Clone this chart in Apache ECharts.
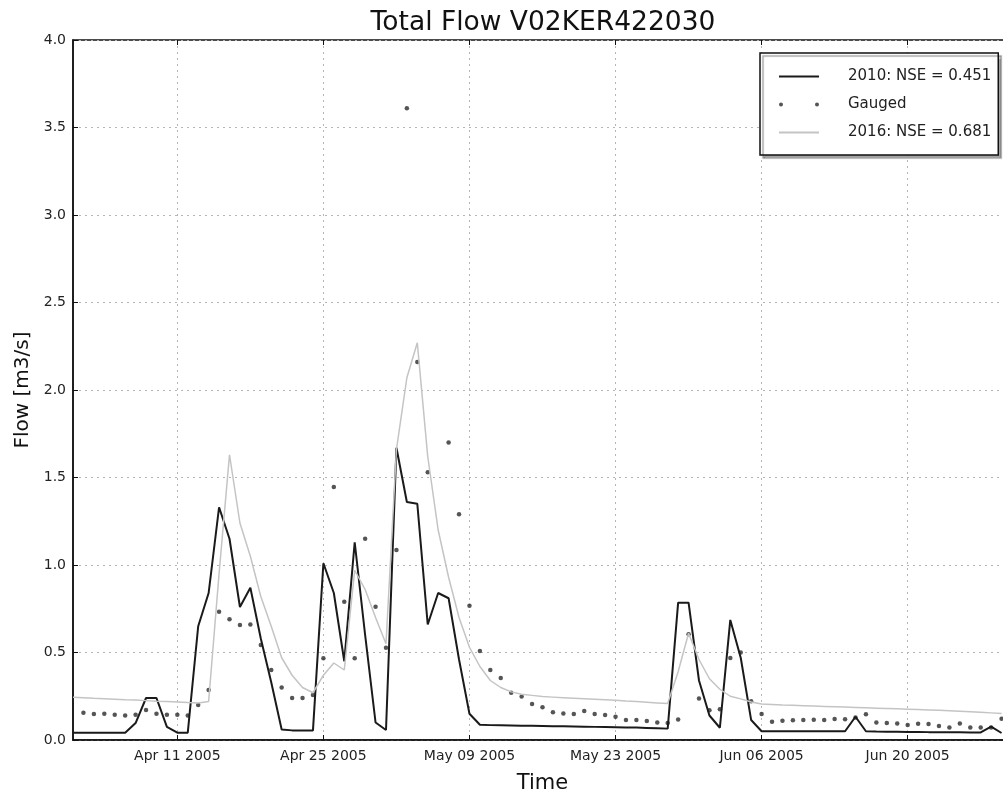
<!DOCTYPE html>
<html>
<head>
<meta charset="utf-8">
<script src="https://cdn.jsdelivr.net/npm/echarts@6/dist/echarts.min.js"></script>
<style>
html,body{margin:0;padding:0;background:#fff;}
#chart{width:1003px;height:796px;}
</style>
</head>
<body>
<div id="chart"></div>
<script>
// ---- data (daily, starting Apr 01 2005) ----
const startYear = 2005, startMonth = 3, startDay = 1; // Apr 1
const nDays = 91; // Apr 01 .. Jun 30
const tickLabels = ["Apr 11 2005", "Apr 25 2005", "May 09 2005", "May 23 2005", "Jun 06 2005", "Jun 20 2005"];
const yTicks = [0, 0.5, 1, 1.5, 2, 2.5, 3, 3.5, 4];

const sim2010 = [
  0.042,0.042,0.042,0.042,0.042,0.042,0.097,0.24,0.24,0.075,
  0.042,0.042,0.65,0.84,1.33,1.15,0.76,0.87,0.58,0.33,
  0.06,0.055,0.055,0.055,1.01,0.84,0.45,1.13,0.60,0.10,
  0.057,1.67,1.36,1.35,0.66,0.84,0.81,0.46,0.15,0.087,
  0.085,0.084,0.083,0.082,0.081,0.080,0.079,0.078,0.077,0.076,
  0.075,0.074,0.073,0.072,0.071,0.069,0.067,0.065,0.785,0.785,
  0.34,0.14,0.07,0.686,0.47,0.114,0.05,0.05,0.05,0.05,
  0.05,0.05,0.05,0.05,0.05,0.133,0.05,0.048,0.047,0.047,
  0.046,0.046,0.045,0.045,0.044,0.044,0.043,0.043,0.076,0.04
];
const gauged = [
  null,0.156,0.148,0.15,0.145,0.14,0.145,0.171,0.15,0.145,
  0.145,0.14,0.20,0.286,0.733,0.69,0.657,0.66,0.543,0.40,
  0.30,0.24,0.24,0.257,0.467,1.446,0.79,0.467,1.15,0.762,
  0.527,1.086,3.61,2.16,1.53,null,1.70,1.29,0.767,0.509,
  0.40,0.354,0.27,0.248,0.206,0.187,0.158,0.152,0.149,0.166,
  0.149,0.143,0.133,0.114,0.114,0.109,0.10,0.097,0.117,0.605,
  0.237,0.17,0.176,0.468,0.50,0.222,0.148,0.105,0.11,0.113,
  0.114,0.116,0.114,0.12,0.118,0.128,0.147,0.10,0.097,0.095,
  0.086,0.093,0.091,0.08,0.072,0.095,0.072,0.072,0.072,0.122
];
const sim2016 = [
  0.244,0.241,0.238,0.236,0.233,0.23,0.228,0.225,0.222,0.22,
  0.217,0.214,0.212,0.22,0.95,1.63,1.24,1.05,0.82,0.65,
  0.47,0.37,0.30,0.27,0.37,0.44,0.40,0.97,0.86,0.70,
  0.55,1.66,2.07,2.27,1.62,1.20,0.93,0.70,0.53,0.42,
  0.34,0.30,0.275,0.262,0.255,0.248,0.245,0.242,0.239,0.236,
  0.233,0.23,0.227,0.223,0.22,0.216,0.212,0.208,0.39,0.61,
  0.46,0.35,0.29,0.25,0.235,0.217,0.206,0.203,0.20,0.198,
  0.196,0.194,0.192,0.19,0.188,0.186,0.184,0.182,0.18,0.178,
  0.176,0.174,0.172,0.17,0.167,0.164,0.161,0.158,0.155,0.152
];

// category labels (one per day)
const monthNames = ["Jan","Feb","Mar","Apr","May","Jun","Jul","Aug","Sep","Oct","Nov","Dec"];
const categories = [];
for (let i = 0; i < nDays; i++) {
  const d = new Date(Date.UTC(startYear, startMonth, startDay + i));
  const dd = String(d.getUTCDate()).padStart(2, "0");
  categories.push(monthNames[d.getUTCMonth()] + " " + dd + " " + d.getUTCFullYear());
}
const tickSet = new Set(tickLabels);
const isTick = (idx, val) => tickSet.has(val);

const FONT = "DejaVu Sans";
const chart = echarts.init(document.getElementById('chart'), null, {renderer: 'canvas'});

const gridStyle = {show: true, interval: isTick, lineStyle: {color: '#b5b5b5', width: 1, type: [2, 4]}};

chart.setOption({
  animation: false,
  backgroundColor: '#fff',
  graphic: [{
    type: 'text', x: 543, y: 10,
    style: {text: 'Total Flow V02KER422030', font: '26.5px "DejaVu Sans"', fill: '#111', textAlign: 'center'}
  }],
  grid: {left: 73, top: 40, right: -9, bottom: 56, show: true, borderColor: '#111', borderWidth: 1.5,
         backgroundColor: 'transparent', containLabel: false, outerBoundsMode: 'none'},
  legend: {
    orient: 'vertical', left: 760, top: 53,
    selectedMode: false,
    backgroundColor: '#fff', borderColor: '#111', borderWidth: 1.5, borderRadius: 0,
    shadowColor: 'rgba(0,0,0,0.35)', shadowBlur: 1, shadowOffsetX: 3, shadowOffsetY: 3,
    padding: [15, 7, 14, 18],
    itemWidth: 40, itemHeight: 4, itemGap: 11,
    textStyle: {fontFamily: FONT, fontSize: 15, color: '#222', lineHeight: 17, padding: [0, 0, 0, 24]},
    data: [
      {name: '2010: NSE = 0.451', itemStyle: {opacity: 0}},
      {name: 'Gauged', icon: 'path://M0,2a2,2 0 1,0 4,0a2,2 0 1,0 -4,0zM36,2a2,2 0 1,0 4,0a2,2 0 1,0 -4,0z'},
      {name: '2016: NSE = 0.681', itemStyle: {opacity: 0}}
    ]
  },
  xAxis: [{
    type: 'category', data: categories, boundaryGap: false,
    name: 'Time', nameLocation: 'middle', nameGap: 33,
    nameTextStyle: {fontFamily: FONT, fontSize: 21, color: '#111'},
    axisLine: {show: true, lineStyle: {color: '#111', width: 1.5}},
    axisTick: {show: true, inside: true, length: 5, interval: isTick, lineStyle: {color: '#111'}},
    axisLabel: {interval: isTick, fontFamily: FONT, fontSize: 14, color: '#222', margin: 9},
    splitLine: gridStyle
  }, {
    type: 'category', data: categories, boundaryGap: false, position: 'top',
    axisLine: {show: false},
    axisTick: {show: true, inside: true, length: 5, interval: isTick, lineStyle: {color: '#111'}},
    axisLabel: {show: false},
    splitLine: {show: false}
  }],
  yAxis: {
    type: 'value', min: 0, max: 4, interval: 0.5,
    name: 'Flow [m3/s]', nameLocation: 'middle', nameGap: 39, nameRotate: 90,
    nameTextStyle: {fontFamily: FONT, fontSize: 20, color: '#111'},
    axisLine: {show: true, lineStyle: {color: '#111', width: 1.5}},
    axisTick: {show: true, inside: true, length: 5, lineStyle: {color: '#111'}},
    axisLabel: {fontFamily: FONT, fontSize: 14, color: '#222', margin: 7, formatter: v => v.toFixed(1)},
    splitLine: {show: true, lineStyle: {color: '#b5b5b5', width: 1, type: [2, 4]}}
  },
  series: [
    {name: '2010: NSE = 0.451', type: 'line', data: sim2010, symbol: 'none', color: '#1a1a1a',
     lineStyle: {color: '#1a1a1a', width: 2}},
    {name: 'Gauged', type: 'scatter', data: gauged, symbol: 'circle', symbolSize: 4.5, color: '#2a2a2a',
     itemStyle: {color: '#2a2a2a'}},
    {name: '2016: NSE = 0.681', type: 'line', data: sim2016, symbol: 'none', color: '#c4c4c4',
     lineStyle: {color: '#c4c4c4', width: 1.5}}
  ]
});
</script>
</body>
</html>
